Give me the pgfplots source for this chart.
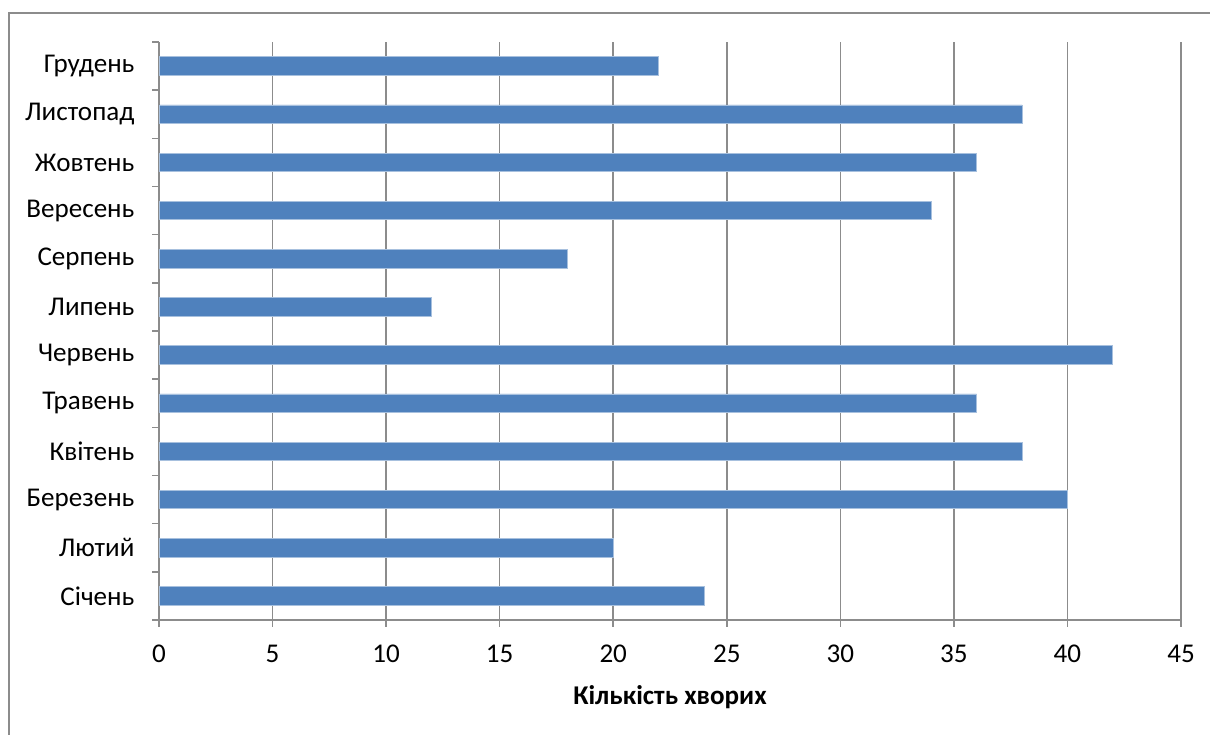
\documentclass[border=0pt]{standalone}
\usepackage{pgfplots}
\pgfplotsset{compat=1.18}
\usepackage{fontspec}
\setmainfont{Carlito}
\definecolor{barblue}{HTML}{4F81BD}
\definecolor{baredge}{HTML}{A7C0DE}
\definecolor{gridgray}{HTML}{8C8C8C}
\begin{document}
\begin{tikzpicture}[x=1pt,y=1pt]
\fontsize{20.3}{24}\selectfont
\path[use as bounding box] (0,0) rectangle (907.5,551.25);
\draw[gridgray, line width=1.2pt] (6.75,-20) -- (6.75,541.5) -- (930,541.5);
\begin{axis}[
  at={(119.25pt,86.25pt)}, anchor=south west,
  scale only axis, width=766.5pt, height=433.5pt,
  xmin=0, xmax=45, ymin=-0.5, ymax=11.5,
  xtick={0,5,...,45},
  ytick={0,...,11},
  yticklabels={Січень,Лютий,Березень,Квітень,Травень,Червень,Липень,Серпень,Вересень,Жовтень,Листопад,Грудень},
  minor ytick={-0.5,0.5,...,11.5},
  axis lines*=left,
  axis line style={gridgray, line width=1.2pt},
  tick align=outside,
  major tick length=5.25pt,
  minor tick length=5.25pt,
  tick style={gridgray, line width=1.2pt},
  every major y tick/.append style={draw=none},
  every minor y tick/.append style={draw=gridgray, line width=1.2pt},
  xmajorgrids,
  grid style={gridgray, line width=1.2pt},
  /pgf/number format/assume math mode=true,
  ticklabel style={font=\fontsize{20.3}{24}\selectfont},
  yticklabel style={anchor=east, inner sep=0pt, xshift=-13pt},
  xticklabel style={anchor=north, inner sep=0pt, yshift=-13.5pt},
  xlabel={\textbf{Кількість хворих}},
  xlabel style={font=\fontsize{20.3}{24}\selectfont, at={(rel axis cs:0.5,0)}, anchor=center, yshift=-57.75pt},
  xbar, bar width=13.9pt,
  clip=false,
]
\addplot[fill=barblue, draw=baredge, line width=0.6pt] coordinates {
(24,0) (20,1) (40,2) (38,3) (36,4) (42,5) (12,6) (18,7) (34,8) (36,9) (38,10) (22,11)
};
\end{axis}
\end{tikzpicture}
\end{document}
